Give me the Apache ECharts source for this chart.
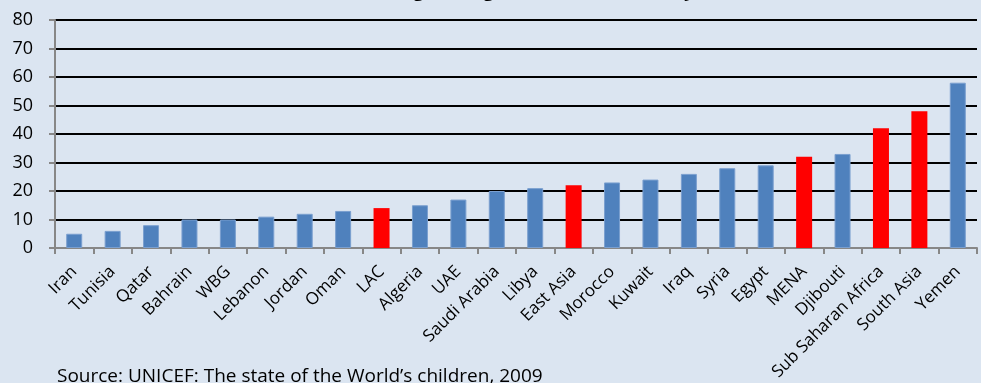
<!DOCTYPE html>
<html>
<head>
<meta charset="utf-8">
<script src="https://cdn.jsdelivr.net/npm/echarts@6/dist/echarts.min.js"></script>
<style>
  html, body { margin: 0; padding: 0; background: #dbe5f1; }
  #chart { width: 981px; height: 383px; }
</style>
</head>
<body>
<div id="chart"></div>
<script>
// Stunting prevalence (%) by country / region
const categories = ['Iran', 'Tunisia', 'Qatar', 'Bahrain', 'WBG', 'Lebanon', 'Jordan', 'Oman', 'LAC',
  'Algeria', 'UAE', 'Saudi Arabia', 'Libya', 'East Asia', 'Morocco', 'Kuwait', 'Iraq', 'Syria',
  'Egypt', 'MENA', 'Djibouti', 'Sub Saharan Africa', 'South Asia', 'Yemen'];
const values = [5, 6, 8, 10, 10, 11, 12, 13, 14, 15, 17, 20, 21, 22, 23, 24, 26, 28, 29, 32, 33, 42, 48, 58];
// Regional aggregates are highlighted
const regions = ['LAC', 'East Asia', 'MENA', 'Sub Saharan Africa', 'South Asia'];
const yTicks = [0, 10, 20, 30, 40, 50, 60, 70, 80];

const font = '"Open Sans", sans-serif';
const chart = echarts.init(document.getElementById('chart'));
chart.setOption({
  backgroundColor: '#dbe5f1',
  animation: false,
  title: {
    text: 'Prevalence of stunting among children under five years (%)',
    left: 'center',
    top: -24,
    textStyle: { fontFamily: font, fontSize: 19, fontWeight: 'bold', color: '#000' }
  },
  grid: { left: 55, right: 4, top: 20, bottom: 135, containLabel: false, outerBoundsMode: 'none' },
  xAxis: {
    type: 'category',
    data: categories,
    axisLine: { lineStyle: { color: '#878787', width: 2 } },
    axisTick: { show: true, alignWithLabel: false, length: 6, lineStyle: { color: '#878787', width: 2 } },
    axisLabel: { rotate: 45, margin: 21, fontFamily: font, fontSize: 17, color: '#000', interval: 0 }
  },
  yAxis: {
    type: 'value',
    min: yTicks[0],
    max: yTicks[yTicks.length - 1],
    interval: 10,
    axisLine: { show: true, lineStyle: { color: '#878787', width: 2 } },
    axisTick: { show: true, length: 6, lineStyle: { color: '#878787', width: 2 } },
    axisLabel: { margin: 22, fontFamily: font, fontSize: 18, color: '#000' },
    splitLine: { lineStyle: { color: '#000', width: 2 } }
  },
  series: [{
    type: 'bar',
    barWidth: 16,
    data: values.map((v, i) => ({
      value: v,
      itemStyle: regions.includes(categories[i])
        ? { color: '#ff0000' }
        : { color: '#4f81bd', borderColor: '#7a9fcf', borderWidth: 1 }
    }))
  }],
  graphic: [{
    type: 'text',
    left: 57,
    top: 367,
    style: { text: "Source: UNICEF: The state of the World\u2019s children, 2009", font: '19px ' + font, fill: '#000' }
  }]
});
</script>
</body>
</html>
